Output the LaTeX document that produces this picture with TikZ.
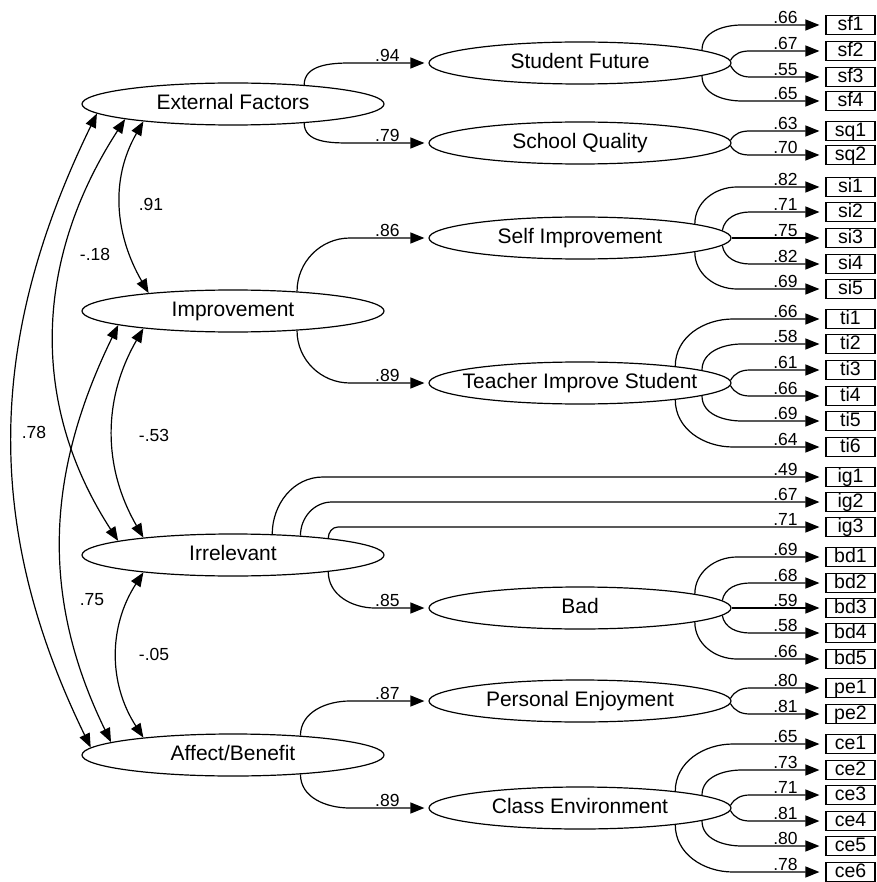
\documentclass[tikz,border=0pt]{standalone}
\usepackage{fontspec}
\setmainfont{Liberation Sans}
\usetikzlibrary{positioning, arrows.meta, shapes.geometric}
\tikzset{
  latent/.style={draw, ellipse, minimum width=302pt, minimum height=42pt,
    inner xsep=-30pt, inner ysep=0pt, text height=15pt, text depth=4pt,
    font=\fontsize{21}{25}\selectfont},
  obs/.style={draw, rectangle, minimum width=49pt, minimum height=19pt,
    inner sep=0pt, text height=14.5pt, text depth=3pt,
    font=\fontsize{19.5}{22}\selectfont},
  num/.style={inner sep=0.5pt, font=\fontsize{17.5}{20}\selectfont}
}

\begin{document}
\begin{tikzpicture}[x=1pt, y=1pt, >={Triangle[length=14pt,width=11pt]}, line width=1.2pt]
    \useasboundingbox (0,0) rectangle (876,-882);

    \node[latent] (ef)  at (233,-104) {External Factors};
    \node[latent] (imp) at (233,-311) {Improvement};
    \node[latent] (irr) at (233,-555) {Irrelevant};
    \node[latent] (ab)  at (233,-755) {Affect/Benefit};

    \node[latent] (sf)  at (580,-63)  {Student Future};
    \node[latent] (sq)  at (580,-143) {School Quality};
    \node[latent] (si)  at (580,-238) {Self Improvement};
    \node[latent] (tis) at (580,-383) {Teacher Improve Student};
    \node[latent] (bad) at (580,-608) {Bad};
    \node[latent] (pe)  at (580,-701) {Personal Enjoyment};
    \node[latent] (ce)  at (580,-808) {Class Environment};

    \draw[->, shorten >=4pt] (ef.15) to[out=90,in=180] (350,-63)
        -- node[num, above, pos=1, xshift=-41pt] (wsf) {.94} (sf);
    \draw[->, shorten >=4pt] (ef.-15) to[out=-90,in=180] (350,-143)
        -- node[num, above, pos=1, xshift=-41pt] (wsq) {.79} (sq);
    \draw[->, shorten >=4pt] (imp.17) to[out=90,in=180] (350,-238)
        -- node[num, above, pos=1, xshift=-41pt] (wsi) {.86} (si);
    \draw[->, shorten >=4pt] (imp.-17) to[out=-90,in=180] (350,-383)
        -- node[num, above, pos=1, xshift=-41pt] (wtis) {.89} (tis);
    \draw[->, shorten >=4pt] (irr.-10) to[out=-90,in=180] (375,-608)
        -- node[num, above, pos=1, xshift=-41pt] (wbad) {.85} (bad);
    \draw[->, shorten >=4pt] (ab.16) to[out=90,in=180] (350,-701)
        -- node[num, above, pos=1, xshift=-41pt] (wpe) {.87} (pe);
    \draw[->, shorten >=4pt] (ab.-16) to[out=-90,in=180] (350,-808)
        -- node[num, above, pos=1, xshift=-41pt] (wce) {.89} (ce);

    \draw[<->] (ef.191)  to[out=240,in=120] (imp.168);
    \draw[<->] (ef.188)  to[out=237,in=123] (irr.173);
    \draw[<->] (ef.184)  to[out=244,in=116] (ab.177);
    \draw[<->] (imp.191) to[out=240,in=120] (irr.169);
    \draw[<->] (imp.187) to[out=244,in=116] (ab.174);
    \draw[<->] (irr.191) to[out=237,in=123] (ab.169);

    \node[num] (c1) at (151,-204) {.91};
    \node[num] (c2) at (95,-254)  {-.18};
    \node[num] (c3) at (34,-432)  {.78};
    \node[num] (c4) at (154,-435) {-.53};
    \node[num] (c5) at (92,-600)  {.75};
    \node[num] (c6) at (154,-654) {-.05};

    \foreach \f/\nm/\py/\val/\ang/\ot/\hx in {
        sf/sf1/25/.66/6/90/742, sf/sf2/51/.67/1/60/750, sf/sf3/77/.55/-1/-60/750, sf/sf4/101/.65/-6/-90/742,
        sq/sq1/131/.63/1/60/750, sq/sq2/155/.70/-1/-60/750,
        si/si1/187/.82/7/90/737, si/si2/212/.71/3/80/750, si/si3/238/.75/0/0/750,
        si/si4/264/.82/-3/-80/750, si/si5/289/.69/-7/-90/737,
        tis/ti1/319/.66/10/90/733, tis/ti2/344/.58/6/90/742, tis/ti3/370/.61/1/60/750,
        tis/ti4/396/.66/-1/-60/750, tis/ti5/421/.69/-6/-90/742, tis/ti6/447/.64/-10/-90/733,
        irr/ig1/477/.49/28/90/323, irr/ig2/502/.67/16/90/332, irr/ig3/527/.71/10/90/338,
        bad/bd1/557/.69/7/90/737, bad/bd2/583/.68/3/80/750, bad/bd3/608/.59/0/0/750,
        bad/bd4/633/.58/-3/-80/750, bad/bd5/659/.66/-7/-90/737,
        pe/pe1/688/.80/1/60/750, pe/pe2/714/.81/-1/-60/750,
        ce/ce1/744/.65/10/90/733, ce/ce2/770/.73/6/90/742, ce/ce3/795/.71/1/60/750,
        ce/ce4/821/.81/-1/-60/750, ce/ce5/846/.80/-6/-90/742, ce/ce6/872/.78/-10/-90/733}{
        \node[obs] (\nm) at (850.5,-\py) {\nm};
        \draw[->, shorten >=6pt] (\f.\ang) to[out=\ot,in=180] (\hx,-\py)
            -- node[num, above, pos=1, xshift=-40pt] (v\nm) {\val} (\nm);
    }
\end{tikzpicture}
\end{document}
